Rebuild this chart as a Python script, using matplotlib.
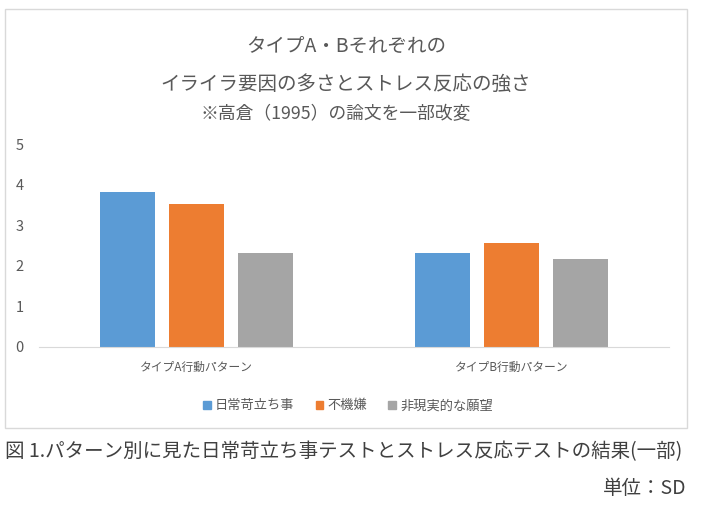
import matplotlib
matplotlib.use('Agg')
import matplotlib.pyplot as plt
from matplotlib.patches import Rectangle, Patch
import numpy as np

plt.rcParams['font.family'] = ['Noto Sans CJK JP', 'DejaVu Sans']

categories = ['タイプA行動パターン', 'タイプB行動パターン']
series_names = ['日常苛立ち事', '不機嫌', '非現実的な願望']
values = {
    '日常苛立ち事': [3.81, 2.32],
    '不機嫌': [3.53, 2.55],
    '非現実的な願望': [2.32, 2.16],
}
colors = ['#5B9BD5', '#ED7D31', '#A5A5A5']
y_ticks = [0, 1, 2, 3, 4, 5]

W, H = 703, 507
fig = plt.figure(figsize=(W / 100, H / 100), dpi=100)

# chart frame
fig.patches.append(Rectangle((5 / W, 1 - 428 / H), 682 / W, 419 / H,
                             transform=fig.transFigure, fill=False,
                             edgecolor='#D9D9D9', linewidth=1))

ax = fig.add_axes([39 / W, 1 - 347 / H, 630 / W, 203 / H])
x = np.arange(len(categories))
bw = 55 / 315
step = 69 / 315
for i, name in enumerate(series_names):
    ax.bar(x + (i - 1) * step, values[name], width=bw, color=colors[i])

ax.set_xlim(-0.5, 1.5)
ax.set_ylim(0, 5)
ax.set_yticks(y_ticks)
ax.set_xticks(x)
ax.set_xticklabels(categories)
for s in ['top', 'right', 'left']:
    ax.spines[s].set_visible(False)
ax.spines['bottom'].set_color('#D9D9D9')
ax.tick_params(axis='y', length=0, pad=11, labelsize=10.5, labelcolor='#595959')
ax.tick_params(axis='x', length=0, pad=10, labelsize=8.5, labelcolor='#595959')

# titles
fig.text(346 / W, 1 - 46 / H, 'タイプA・Bそれぞれの', ha='center', va='center',
         fontsize=14, color='#595959')
fig.text(346 / W, 1 - 84 / H, 'イライラ要因の多さとストレス反応の強さ', ha='center', va='center',
         fontsize=14, color='#595959')
fig.text(336 / W, 1 - 114 / H, '※高倉（1995）の論文を一部改変', ha='center', va='center',
         fontsize=12.8, color='#595959')

handles = [Patch(color=c) for c in colors]
fig.legend(handles, series_names, loc='center', bbox_to_anchor=(348 / W, 1 - 406 / H),
           ncol=3, frameon=False, fontsize=9.5, handlelength=0.6, handleheight=0.6,
           handletextpad=0.3, columnspacing=1.6, labelcolor='#595959')

# caption
fig.text(5 / W, 1 - 452 / H, '図 1.パターン別に見た日常苛立ち事テストとストレス反応テストの結果(一部)',
         ha='left', va='center', fontsize=14.0, color='#404040')
fig.text(686 / W, 1 - 488 / H, '単位：SD', ha='right', va='center',
         fontsize=14, color='#404040')

fig.savefig('out.png', dpi=100)
